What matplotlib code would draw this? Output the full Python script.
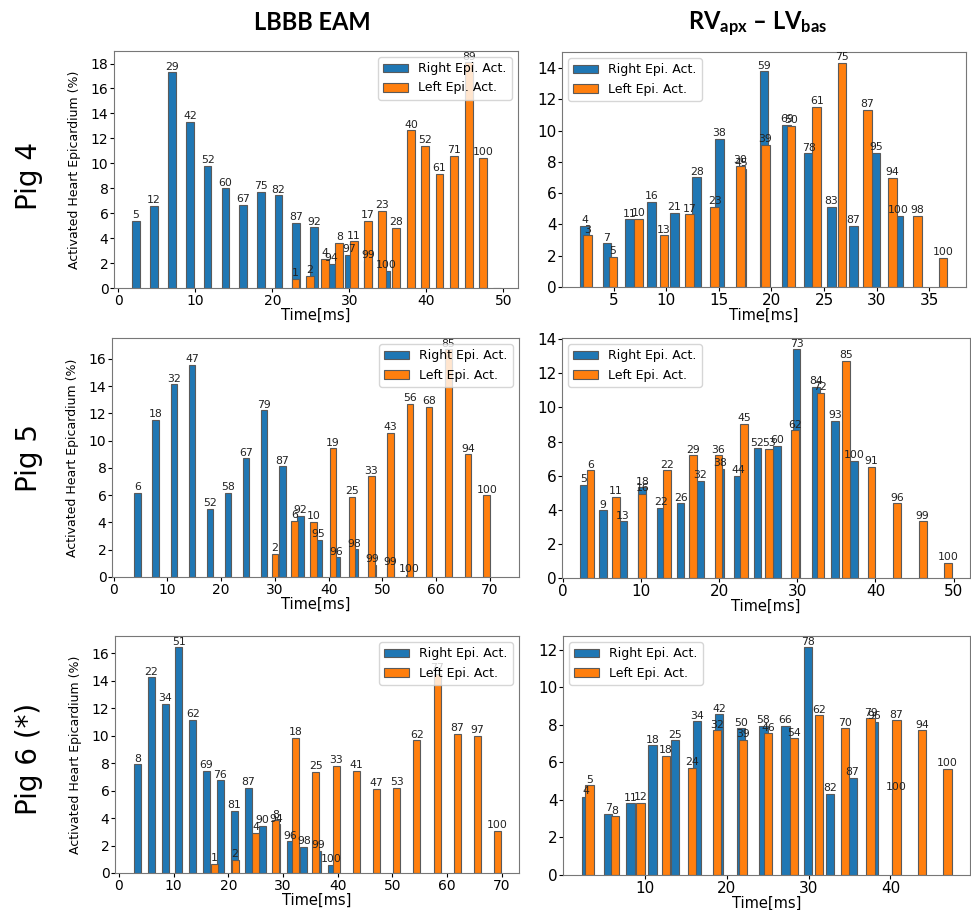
import matplotlib
matplotlib.use("Agg")
import matplotlib.pyplot as plt
from matplotlib.ticker import MultipleLocator

# Bin centres (ms), activated epicardium per bin (%) and cumulative labels (%)
# Pig 4, LBBB EAM
P4_EAM_RIGHT_T = [2.3, 4.6, 7.0, 9.3, 11.6, 13.9, 16.2, 18.5, 20.8, 23.1, 25.4, 27.7, 30.0, 32.4, 34.8]
P4_EAM_RIGHT_H = [5.36, 6.56, 17.3, 13.3, 9.82, 7.99, 6.69, 7.70, 7.43, 5.2, 4.86, 1.94, 2.65, 2.2, 1.38]
P4_EAM_RIGHT_L = ["5", "12", "29", "42", "52", "60", "67", "75", "82", "87", "92", "94", "97", "99", "100"]
P4_EAM_LEFT_T = [23.0, 24.9, 26.8, 28.7, 30.6, 32.4, 34.2, 36.1, 38.0, 39.8, 41.7, 43.6, 45.5, 47.4, 49.2]
P4_EAM_LEFT_H = [0.74, 1.0, 2.31, 3.61, 3.74, 5.36, 6.21, 4.83, 12.64, 11.39, 9.13, 10.6, 18.1, 10.43, 0.0]
P4_EAM_LEFT_L = ["1", "2", "4", "8", "11", "17", "23", "28", "40", "52", "61", "71", "89", "100", ""]

# Pig 4, RVapx - LVbas
P4_RV_RIGHT_T = [2.24, 4.36, 6.52, 8.6, 10.76, 12.9, 15.04, 17.15, 19.3, 21.45, 23.55, 25.7, 27.8, 29.95, 32.05]
P4_RV_RIGHT_H = [3.91, 2.79, 4.32, 5.45, 4.74, 7.02, 9.47, 7.55, 13.79, 10.36, 8.55, 5.15, 3.91, 8.6, 4.57]
P4_RV_RIGHT_L = ["4", "7", "11", "16", "21", "28", "38", "45", "59", "69", "78", "83", "87", "95", "100"]
P4_RV_LEFT_T = [2.53, 4.94, 7.34, 9.79, 12.18, 14.6, 17.04, 19.43, 21.86, 24.3, 26.7, 29.1, 31.5, 33.9, 36.3]
P4_RV_LEFT_H = [3.3, 1.94, 4.36, 3.3, 4.64, 5.15, 7.74, 9.08, 10.32, 11.51, 14.32, 11.32, 6.98, 4.55, 1.87]
P4_RV_LEFT_L = ["3", "5", "10", "13", "17", "23", "30", "39", "50", "61", "75", "87", "94", "98", "100"]

# Pig 5, LBBB EAM
P5_EAM_RIGHT_T = [4.47, 7.83, 11.2, 14.56, 17.92, 21.28, 24.64, 28.0, 31.4, 34.73, 38.1, 41.5, 44.8, 48.1, 51.5, 54.9]
P5_EAM_RIGHT_H = [6.18, 11.54, 14.14, 15.54, 5.02, 6.18, 8.7, 12.23, 8.11, 4.51, 2.74, 1.45, 2.03, 0.9, 0.65, 0.15]
P5_EAM_RIGHT_L = ["6", "18", "32", "47", "52", "58", "67", "79", "87", "92", "95", "96", "98", "99", "99", "100"]
P5_EAM_LEFT_T = [30.0, 33.6, 37.2, 40.8, 44.3, 47.97, 51.5, 55.1, 58.7, 62.3, 65.9, 69.4]
P5_EAM_LEFT_H = [1.72, 4.14, 4.07, 9.44, 5.88, 7.38, 10.6, 12.7, 12.5, 16.7, 9.0, 6.0]
P5_EAM_LEFT_L = ["2", "6", "10", "19", "25", "33", "43", "56", "68", "85", "94", "100"]

# Pig 5, RVapx - LVbas
P5_RV_RIGHT_T = [2.65, 5.15, 7.65, 10.15, 12.5, 15.05, 17.55, 20.05, 22.4, 24.9, 27.4, 29.9, 32.35, 34.8, 37.3]
P5_RV_RIGHT_H = [5.48, 3.97, 3.32, 5.32, 4.13, 4.38, 5.7, 6.38, 5.99, 7.6, 7.74, 13.4, 11.22, 9.21, 6.86]
P5_RV_RIGHT_L = ["5", "9", "13", "18", "22", "26", "32", "38", "44", "52", "60", "73", "84", "93", "100"]
P5_RV_LEFT_T = [3.53, 6.8, 10.14, 13.35, 16.6, 19.9, 23.17, 26.4, 29.7, 32.95, 36.2, 39.5, 42.77, 46.04, 49.3]
P5_RV_LEFT_H = [6.31, 4.75, 4.95, 6.31, 7.19, 7.19, 9.02, 7.56, 8.66, 10.86, 12.73, 6.5, 4.38, 3.32, 0.9]
P5_RV_LEFT_L = ["6", "11", "16", "22", "29", "36", "45", "53", "62", "72", "85", "91", "96", "99", "100"]

# Pig 6, LBBB EAM
P6_EAM_RIGHT_T = [3.35, 5.9, 8.45, 10.95, 13.5, 16.0, 18.57, 21.1, 23.66, 26.25, 28.8, 31.3, 33.85, 36.4, 38.9]
P6_EAM_RIGHT_H = [7.9, 14.23, 12.33, 16.42, 11.12, 7.42, 6.74, 4.5, 6.2, 3.43, 3.53, 2.31, 1.9, 1.63, 0.61]
P6_EAM_RIGHT_L = ["8", "22", "34", "51", "62", "69", "76", "81", "87", "90", "94", "96", "98", "99", "100"]
P6_EAM_LEFT_T = [17.5, 21.25, 24.97, 28.66, 32.35, 36.04, 39.73, 43.4, 47.1, 50.8, 54.5, 58.2, 61.9, 65.6, 69.3]
P6_EAM_LEFT_H = [0.66, 0.97, 2.9, 3.82, 9.85, 7.35, 7.79, 7.42, 6.13, 6.2, 9.64, 14.48, 10.1, 10.0, 3.07]
P6_EAM_LEFT_L = ["1", "2", "4", "8", "18", "25", "33", "41", "47", "53", "62", "77", "87", "97", "100"]

# Pig 6, RVapx - LVbas
P6_RV_RIGHT_T = [2.85, 5.56, 8.28, 10.99, 13.68, 16.4, 19.1, 21.8, 24.5, 27.2, 29.9, 32.6, 35.35, 38.0, 40.66]
P6_RV_RIGHT_H = [4.17, 3.26, 3.81, 6.9, 7.17, 8.18, 8.56, 7.81, 7.95, 7.95, 12.12, 4.33, 5.17, 8.16, 4.37]
P6_RV_RIGHT_L = ["4", "7", "11", "18", "25", "34", "42", "50", "58", "66", "78", "82", "87", "96", "100"]
P6_RV_LEFT_T = [3.28, 6.41, 9.52, 12.63, 15.75, 18.86, 21.98, 25.09, 28.2, 31.3, 34.45, 37.58, 40.74, 43.85, 46.97]
P6_RV_LEFT_H = [4.78, 3.12, 3.85, 6.33, 5.72, 7.7, 7.2, 7.54, 7.27, 8.5, 7.81, 8.34, 8.24, 7.7, 5.65]
P6_RV_LEFT_L = ["5", "8", "12", "18", "24", "32", "39", "46", "54", "62", "70", "79", "87", "94", "100"]

ROW_NAMES = ["Pig 4", "Pig 5", "Pig 6 (*)"]
COL_NAMES = ["LBBB EAM", r"$\mathbf{RV_{apx}}$ – $\mathbf{LV_{bas}}$"]

BLUE = "#1f77b4"
ORANGE = "#ff7f0e"

plt.rcParams["mathtext.fontset"] = "custom"
plt.rcParams["mathtext.bf"] = "Lato:bold"
plt.rcParams["mathtext.rm"] = "Lato"


def draw_panel(ax, right, left, width, xlim, tick_size, legend_loc, ylabel):
    """Paired bars of right/left epicardial activation with cumulative labels."""
    for (t, h, lbl), color, name in ((right, BLUE, "Right Epi. Act."),
                                     (left, ORANGE, "Left Epi. Act.")):
        bars = ax.bar(t, h, width=width, color=color, edgecolor="#5a5a5a",
                      linewidth=0.8, label=name)
        for bar, text in zip(bars, lbl):
            if not text:
                continue
            ax.annotate(text, (bar.get_x() + bar.get_width() / 2, bar.get_height()),
                        xytext=(0, 0.5), textcoords="offset points",
                        ha="center", va="bottom", fontsize=7.8, color="#222222",
                        clip_on=True)
    ax.set_xlim(*xlim)
    ax.yaxis.set_major_locator(MultipleLocator(2))
    ax.set_xlabel("Time[ms]", fontsize=10.5, labelpad=0)
    if ylabel:
        ax.set_ylabel("Activated Heart Epicardium (%)", fontsize=9, labelpad=7)
    ax.tick_params(labelsize=tick_size, pad=1, length=3)
    for sp in ax.spines.values():
        sp.set_color("#777777")
    ax.legend(loc=legend_loc, fontsize=9)


W, H = 971, 910
fig = plt.figure(figsize=(W / 100, H / 100), dpi=100)


def box(l, t, r, b):
    return [l / W, 1 - b / H, (r - l) / W, (b - t) / H]


panels = [
    (box(114, 51, 518, 288), (P4_EAM_RIGHT_T, P4_EAM_RIGHT_H, P4_EAM_RIGHT_L),
     (P4_EAM_LEFT_T, P4_EAM_LEFT_H, P4_EAM_LEFT_L), 1.0, (-0.56, 51.9), 10, "upper right", True),
    (box(562, 52, 966, 287), (P4_RV_RIGHT_T, P4_RV_RIGHT_H, P4_RV_RIGHT_L),
     (P4_RV_LEFT_T, P4_RV_LEFT_H, P4_RV_LEFT_L), 0.83, (0.08, 38.5), 11, "upper left", False),
    (box(112, 338, 519, 577), (P5_EAM_RIGHT_T, P5_EAM_RIGHT_H, P5_EAM_RIGHT_L),
     (P5_EAM_LEFT_T, P5_EAM_LEFT_H, P5_EAM_LEFT_L), 1.22, (-0.3, 75.4), 10, "upper right", True),
    (box(562, 338, 970, 578), (P5_RV_RIGHT_T, P5_RV_RIGHT_H, P5_RV_RIGHT_L),
     (P5_RV_LEFT_T, P5_RV_LEFT_H, P5_RV_LEFT_L), 1.0, (-0.13, 52.1), 11, "upper left", False),
    (box(115, 636, 519, 873), (P6_EAM_RIGHT_T, P6_EAM_RIGHT_H, P6_EAM_RIGHT_L),
     (P6_EAM_LEFT_T, P6_EAM_LEFT_H, P6_EAM_LEFT_L), 1.28, (-0.73, 73.2), 10, "upper right", True),
    (box(563, 636, 970, 875), (P6_RV_RIGHT_T, P6_RV_RIGHT_H, P6_RV_RIGHT_L),
     (P6_RV_LEFT_T, P6_RV_LEFT_H, P6_RV_LEFT_L), 1.02, (0.05, 49.7), 11, "upper left", False),
]

for rect, right, left, width, xlim, tsize, loc, ylab in panels:
    ax = fig.add_axes(rect)
    draw_panel(ax, right, left, width, xlim, tsize, loc, ylab)

# column titles
fig.text(312 / W, 1 - 22 / H, COL_NAMES[0], ha="center", va="center",
         fontsize=17, fontweight="bold", family="Lato")
fig.text(758 / W, 1 - 24 / H, COL_NAMES[1], ha="center", va="center",
         fontsize=17, fontweight="bold", family="Lato")

# row labels
for name, yc in zip(ROW_NAMES, [176, 458, 759]):
    fig.text(29 / W, 1 - yc / H, name, rotation=90, ha="center", va="center",
             fontsize=20)

fig.savefig("out.png", dpi=100)
